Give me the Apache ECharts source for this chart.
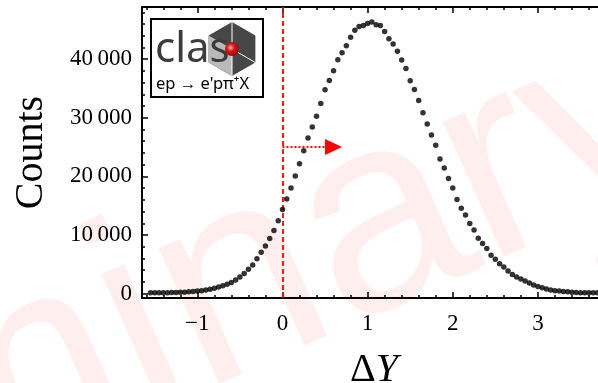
<!DOCTYPE html>
<html>
<head>
<meta charset="utf-8">
<title>Counts vs ΔY</title>
<script src="https://cdn.jsdelivr.net/npm/echarts@6.0.0/dist/echarts.min.js"></script>
<style>
  html, body { margin: 0; padding: 0; background: #fff; }
  #chart { width: 598px; height: 383px; }
</style>
</head>
<body>
<div id="chart"></div>
<script>
// bin centres and counts
const deltaY = [
  -1.55, -1.50, -1.45, -1.40, -1.35, -1.30, -1.25, -1.20, -1.15, -1.10,
  -1.05, -1.00, -0.95, -0.90, -0.85, -0.80, -0.75, -0.70, -0.65, -0.60,
  -0.55, -0.50, -0.45, -0.40, -0.35, -0.30, -0.25, -0.20, -0.15, -0.10,
  -0.05, 0.00, 0.05, 0.10, 0.15, 0.20, 0.25, 0.30, 0.35, 0.40,
  0.45, 0.50, 0.55, 0.60, 0.65, 0.70, 0.75, 0.80, 0.85, 0.90,
  0.95, 1.00, 1.05, 1.10, 1.15, 1.20, 1.25, 1.30, 1.35, 1.40,
  1.45, 1.50, 1.55, 1.60, 1.65, 1.70, 1.75, 1.80, 1.85, 1.90,
  1.95, 2.00, 2.05, 2.10, 2.15, 2.20, 2.25, 2.30, 2.35, 2.40,
  2.45, 2.50, 2.55, 2.60, 2.65, 2.70, 2.75, 2.80, 2.85, 2.90,
  2.95, 3.00, 3.05, 3.10, 3.15, 3.20, 3.25, 3.30, 3.35, 3.40,
  3.45, 3.50, 3.55, 3.60, 3.65, 3.70
];
const counts = [
  150, 150, 150, 150, 160, 170, 200, 220, 250, 330,
  370, 430, 500, 600, 750, 910, 1110, 1340, 1590, 1910,
  2310, 2830, 3450, 4140, 4880, 5960, 7050, 8130, 9390, 10760,
  12410, 14330, 16130, 18000, 20050, 22160, 24380, 26560, 28440, 30270,
  32430, 34770, 36370, 38030, 39880, 41080, 42300, 43720, 44950, 45580,
  45750, 46090, 46320, 45870, 45730, 44700, 43500, 42590, 41330, 39860,
  38420, 36310, 34820, 32940, 30840, 28950, 27070, 25300, 22960, 21420,
  19660, 18000, 16060, 14580, 13430, 11950, 10870, 9440, 8530, 7680,
  6530, 5850, 5110, 4540, 3850, 3280, 2820, 2480, 2140, 1790,
  1450, 1230, 1000, 770, 600, 490, 450, 370, 320, 230,
  180, 160, 150, 150, 150, 150
];

const xMajorTicks = [-1, 0, 1, 2, 3];
const xMinorTicks = [-1.6, -1.4, -1.2, -0.8, -0.6, -0.4, -0.2, 0.2, 0.4, 0.6, 0.8,
  1.2, 1.4, 1.6, 1.8, 2.2, 2.4, 2.6, 2.8, 3.2, 3.4, 3.6];
const yMajorTicks = [0, 10000, 20000, 30000, 40000];
const yMinorTicks = [2000, 4000, 6000, 8000, 12000, 14000, 16000, 18000,
  22000, 24000, 26000, 28000, 32000, 34000, 36000, 38000,
  42000, 44000, 46000, 48000];

// cut marker: dashed line at ΔY = 0, arrow pointing to the accepted side
const cutValue = 0;
const arrowLevel = 25000;
const arrowTailEnd = 0.5;
const arrowHeadAt = 0.6;

const xMin = -1.65, xMax = 3.8;
const yMin = -750, yMax = 48900;

const serif = 'Liberation Serif';
const sans = 'Noto Sans';

const chart = echarts.init(document.getElementById('chart'));

function xAxisDef(position, ticks, len, withLine, withLabels) {
    return {
        type: 'value',
        position: position,
        min: xMin,
        max: xMax,
        splitLine: { show: false },
        axisLine: { show: withLine, onZero: false, lineStyle: { color: '#000', width: 2 } },
        axisTick: { show: true, inside: true, length: len, customValues: ticks,
            lineStyle: { color: '#000', width: 1.5 } },
        axisLabel: withLabels ? {
            show: true, customValues: ticks, margin: 14,
            color: '#000', fontFamily: serif, fontSize: 23,
            formatter: v => (v < 0 ? '\u2212' + Math.abs(v) : String(v))
        } : { show: false }
    };
}

function yAxisDef(ticks, len, withLine, withLabels) {
    return {
        type: 'value',
        position: 'left',
        min: yMin,
        max: yMax,
        splitLine: { show: false },
        axisLine: { show: withLine, onZero: false, lineStyle: { color: '#000', width: 2 } },
        axisTick: { show: true, inside: true, length: len, customValues: ticks,
            lineStyle: { color: '#000', width: 1.5 } },
        axisLabel: withLabels ? {
            show: true, customValues: ticks, margin: 10,
            color: '#000', fontFamily: serif, fontSize: 23,
            formatter: v => String(v).replace(/\B(?=(\d{3})+(?!\d))/g, '\u2009')
        } : { show: false }
    };
}

const xBottom = xAxisDef('bottom', xMajorTicks, 6, true, true);
xBottom.name = '{d|Δ}{i|Y}';
xBottom.nameLocation = 'middle';
xBottom.nameGap = 52;
xBottom.nameTextStyle = {
    rich: {
        d: { fontFamily: serif, fontSize: 40, color: '#000' },
        i: { fontFamily: serif, fontSize: 40, fontStyle: 'italic', color: '#000' }
    }
};

const yLeft = yAxisDef(yMajorTicks, 6, true, true);
yLeft.name = 'Counts';
yLeft.nameLocation = 'middle';
yLeft.nameRotate = 90;
yLeft.nameGap = 91;
yLeft.nameTextStyle = { fontFamily: serif, fontSize: 40, color: '#000' };

// CLAS logo geometry (pixels)
const hx = 232, hy = 49, hr = 27;
const hexPts = [0, 1, 2, 3, 4, 5].map(k => {
    const a = (-90 + 60 * k) * Math.PI / 180;
    return [hx + hr * Math.cos(a), hy + hr * Math.sin(a)];
});

const option = {
    animation: false,
    backgroundColor: '#fff',
    grid: { left: 142, top: 7, right: -8, bottom: 85, containLabel: false, outerBoundsMode: 'none' },
    xAxis: [
        xBottom,
        xAxisDef('bottom', xMinorTicks, 3, false, false),
        xAxisDef('top', xMajorTicks, 6, true, false),
        xAxisDef('top', xMinorTicks, 3, false, false)
    ],
    yAxis: [
        yLeft,
        yAxisDef(yMinorTicks, 3, false, false)
    ],
    graphic: [
        {
            type: 'text', x: 85, y: 512, rotation: 24 * Math.PI / 180, z: -10, silent: true,
            style: {
                text: 'Preliminary', fontSize: 280, fontFamily: 'Liberation Sans',
                fill: '#ffeeee', align: 'center', textAlign: 'center',
                verticalAlign: 'bottom', textVerticalAlign: 'bottom'
            }
        },
        {
            type: 'rect', z: 100, silent: true,
            shape: { x: 151, y: 19, width: 112, height: 78 },
            style: { fill: '#fff', stroke: '#000', lineWidth: 2 }
        },
        {
            type: 'polygon', z: 101, silent: true,
            shape: { points: hexPts },
            style: { fill: '#474747' }
        },
        {
            type: 'polygon', z: 102, silent: true,
            shape: { points: [[hx, hy], hexPts[5], hexPts[4], hexPts[3]] },
            style: { fill: '#b9b9b9' }
        },
        {
            type: 'polyline', z: 103, silent: true,
            shape: { points: [hexPts[0], [hx, hy], hexPts[2]] },
            style: { stroke: '#fff', lineWidth: 1, fill: null }
        },
        {
            type: 'line', z: 103, silent: true,
            shape: { x1: hx, y1: hy, x2: hexPts[3][0], y2: hexPts[3][1] },
            style: { stroke: '#fff', lineWidth: 1 }
        },
        {
            type: 'text', z: 104, silent: true, x: 155, y: 50,
            style: {
                text: 'clas', fontSize: 42, fontFamily: sans, fill: '#3c3c3c',
                align: 'left', textAlign: 'left', verticalAlign: 'middle', textVerticalAlign: 'middle'
            }
        },
        {
            type: 'circle', z: 105, silent: true,
            shape: { cx: hx, cy: hy, r: 7 },
            style: {
                fill: {
                    type: 'radial', x: 0.4, y: 0.4, r: 0.7,
                    colorStops: [
                        { offset: 0, color: '#ffd0d0' },
                        { offset: 0.35, color: '#e01818' },
                        { offset: 1, color: '#8c0000' }
                    ]
                }
            }
        },
        {
            type: 'text', z: 104, silent: true, x: 156, y: 84,
            style: {
                text: "ep \u2192 e'p\u03c0\u207aX", fontSize: 16.5, fontFamily: sans, fill: '#000',
                align: 'left', textAlign: 'left', verticalAlign: 'middle', textVerticalAlign: 'middle'
            }
        }
    ],
    series: [
        {
            type: 'scatter',
            xAxisIndex: 0,
            yAxisIndex: 0,
            symbol: 'circle',
            symbolSize: 5.5,
            itemStyle: { color: '#000' },
            data: deltaY.map((x, i) => [x, counts[i]]),
            z: 5,
            markLine: {
                silent: true,
                symbol: 'none',
                label: { show: false },
                data: [
                    { xAxis: cutValue, lineStyle: { color: '#ff0000', width: 1.8, type: [5, 3] } },
                    [
                        { coord: [cutValue, arrowLevel], lineStyle: { color: '#ff0000', width: 2, type: [2, 2] } },
                        { coord: [arrowTailEnd, arrowLevel] }
                    ]
                ]
            },
            markPoint: {
                silent: true,
                label: { show: false },
                data: [
                    {
                        coord: [arrowHeadAt, arrowLevel],
                        symbol: 'triangle',
                        symbolRotate: -90,
                        symbolSize: [16, 17],
                        itemStyle: { color: '#ff0000' }
                    }
                ]
            }
        }
    ]
};

chart.setOption(option);
</script>
</body>
</html>
